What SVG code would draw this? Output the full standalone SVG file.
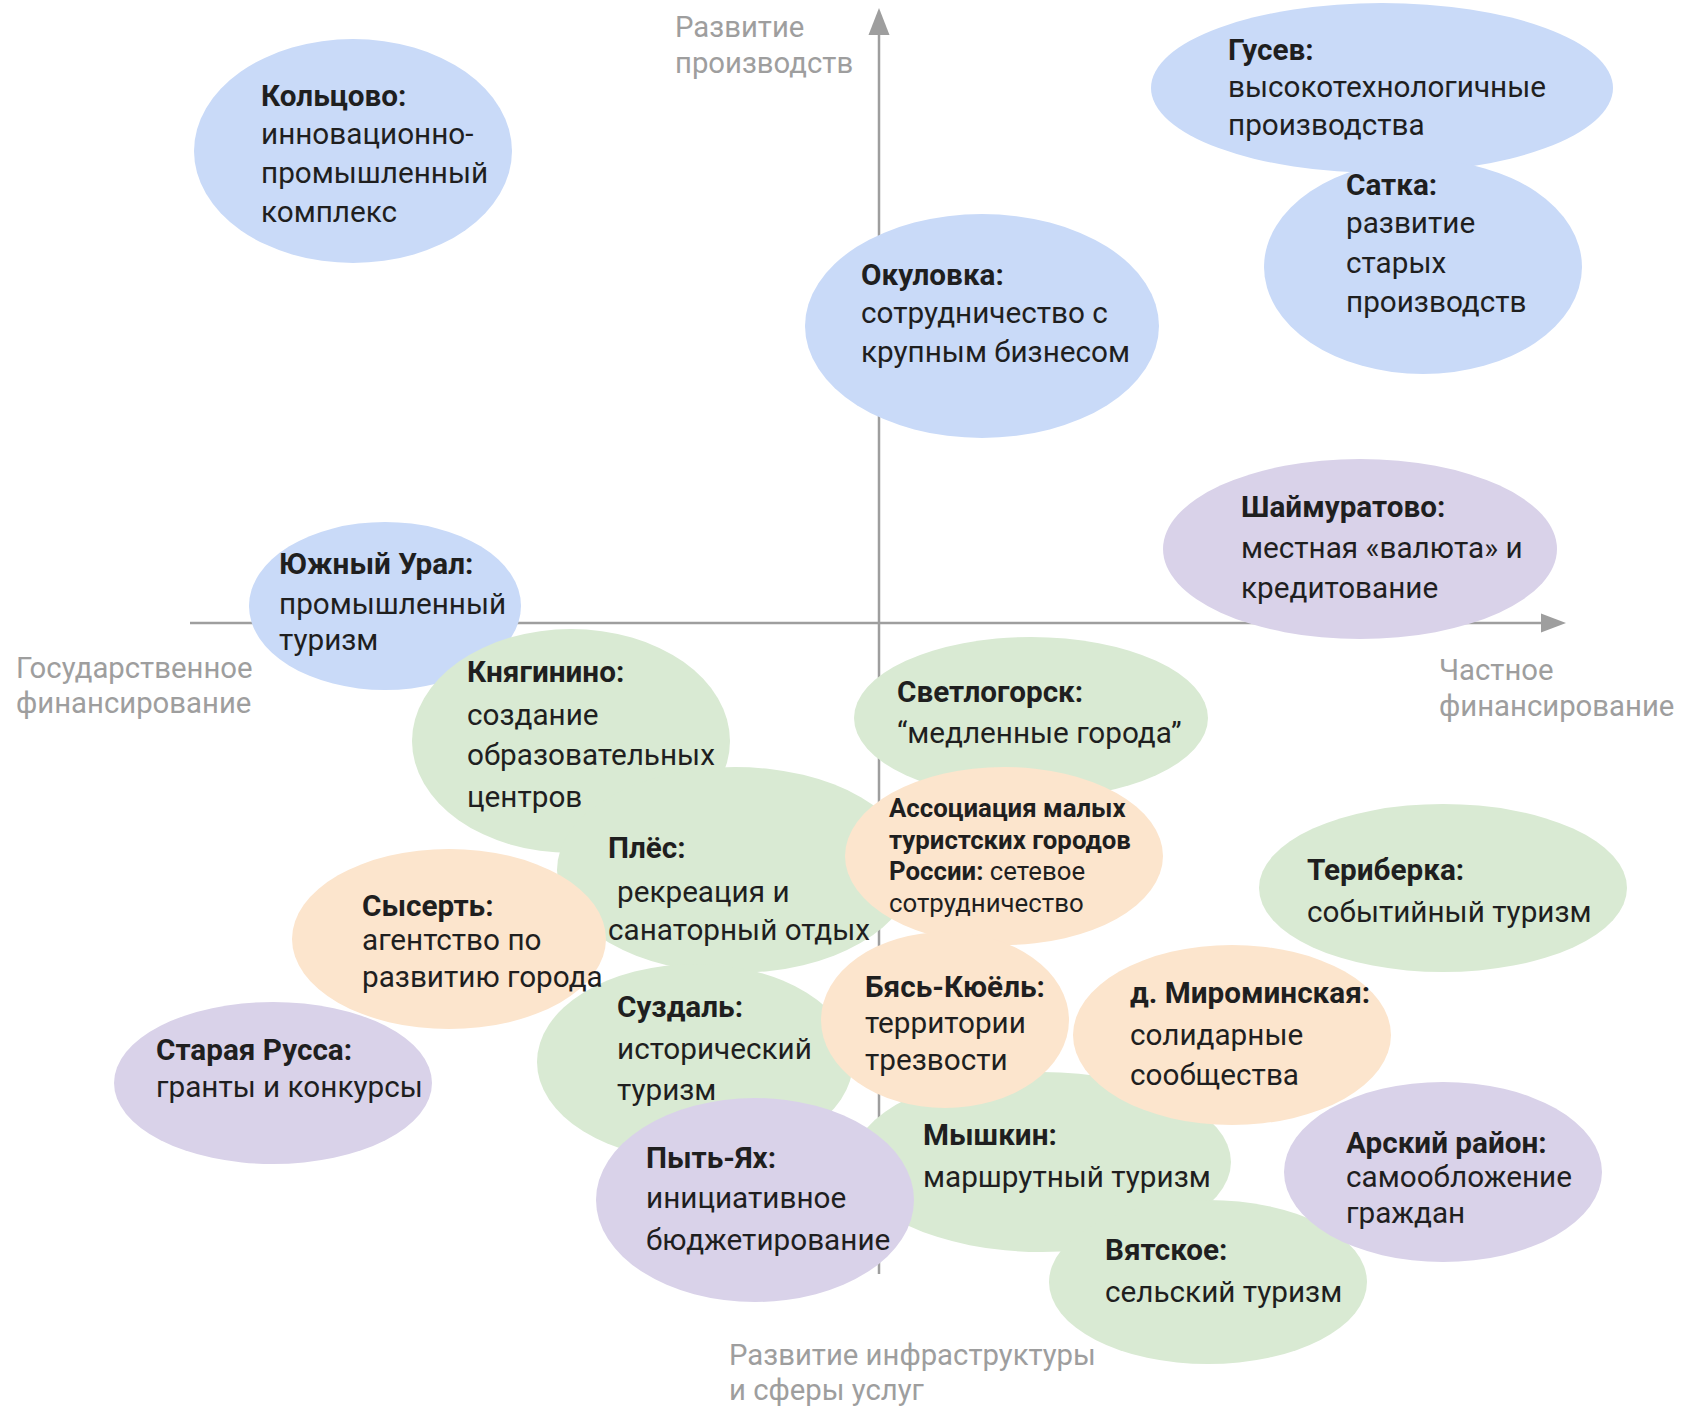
<svg xmlns="http://www.w3.org/2000/svg" width="1693" height="1408" viewBox="0 0 1693 1408">
<defs>
<style>
.blue{fill:#c9daf8}
.green{fill:#d9ead3}
.orange{fill:#fce5cd}
.purple{fill:#d9d2e9}
text{font-family:Roboto,"Liberation Sans",sans-serif;font-size:29.7px;fill:#1f1f1f}
.b{font-weight:bold}
.ax{fill:#9e9e9e;font-size:29.3px}
.sm{font-size:25.8px}
.axis{stroke:#9e9e9e;stroke-width:2.5;fill:none}
.head{fill:#9e9e9e}
</style>
</defs>
<rect width="1693" height="1408" fill="#fff"/>
<g id="connectors">
<line class="axis" x1="879" y1="1274" x2="879" y2="35"/>
<polygon class="head" points="879,8 868.5,35 889.5,35"/>
<line class="axis" x1="190" y1="623" x2="1541" y2="623"/>
<polygon class="head" points="1566,623 1541,613.5 1541,632.5"/>
</g>
<g id="axis-labels">
<text class="ax" x="675" y="37">Развитие<tspan x="675" y="73">производств</tspan></text>
<text class="ax" x="16" y="678">Государственное<tspan x="16" y="713">финансирование</tspan></text>
<text class="ax" x="1439" y="680">Частное<tspan x="1439" y="716">финансирование</tspan></text>
<text class="ax" x="729" y="1365">Развитие инфраструктуры<tspan x="729" y="1400">и сферы услуг</tspan></text>
</g>
<g id="koltsovo">
<ellipse class="blue" cx="353" cy="151" rx="159" ry="112"/>
<text x="261" y="106"><tspan class="b">Кольцово:</tspan><tspan x="261" y="144">инновационно-</tspan><tspan x="261" y="183">промышленный</tspan><tspan x="261" y="222">комплекс</tspan></text>
</g>
<g id="gusev">
<ellipse class="blue" cx="1382" cy="88" rx="231" ry="85"/>
<text x="1228" y="60"><tspan class="b">Гусев:</tspan><tspan x="1228" y="97">высокотехнологичные</tspan><tspan x="1228" y="135">производства</tspan></text>
</g>
<g id="satka">
<ellipse class="blue" cx="1423" cy="267" rx="159" ry="107"/>
<text x="1346" y="195"><tspan class="b">Сатка:</tspan><tspan x="1346" y="233">развитие</tspan><tspan x="1346" y="273">старых</tspan><tspan x="1346" y="312">производств</tspan></text>
</g>
<g id="okulovka">
<ellipse class="blue" cx="982" cy="326" rx="177" ry="112"/>
<text x="861" y="285"><tspan class="b">Окуловка:</tspan><tspan x="861" y="323">сотрудничество с</tspan><tspan x="861" y="362">крупным бизнесом</tspan></text>
</g>
<g id="shaimuratovo">
<ellipse class="purple" cx="1360" cy="549" rx="197" ry="90"/>
<text x="1241" y="517"><tspan class="b">Шаймуратово:</tspan><tspan x="1241" y="558">местная «валюта» и</tspan><tspan x="1241" y="598">кредитование</tspan></text>
</g>
<g id="yuzhny-ural">
<ellipse class="blue" cx="385" cy="606" rx="136" ry="84"/>
<text x="279" y="574"><tspan class="b">Южный Урал:</tspan><tspan x="279" y="614">промышленный</tspan><tspan x="279" y="650">туризм</tspan></text>
</g>
<g id="knyaginino">
<ellipse class="green" cx="571" cy="741" rx="159" ry="112"/>
<text x="467" y="682"><tspan class="b">Княгинино:</tspan><tspan x="467" y="725">создание</tspan><tspan x="467" y="765">образовательных</tspan><tspan x="467" y="807">центров</tspan></text>
</g>
<g id="plyos">
<ellipse class="green" cx="735" cy="870" rx="178" ry="103"/>
<text x="608" y="858"><tspan class="b">Плёс:</tspan><tspan x="617" y="902">рекреация и</tspan><tspan x="608" y="940">санаторный отдых</tspan></text>
</g>
<g id="suzdal">
<ellipse class="green" cx="695" cy="1062" rx="158" ry="98"/>
<text x="617" y="1017"><tspan class="b">Суздаль:</tspan><tspan x="617" y="1059">исторический</tspan><tspan x="617" y="1100">туризм</tspan></text>
</g>
<g id="sysert">
<ellipse class="orange" cx="449" cy="939" rx="157" ry="90"/>
<text x="362" y="916"><tspan class="b">Сысерть:</tspan><tspan x="362" y="950">агентство по</tspan><tspan x="362" y="987">развитию города</tspan></text>
</g>
<g id="staraya-russa">
<ellipse class="purple" cx="273" cy="1083" rx="159" ry="81"/>
<text x="156" y="1060"><tspan class="b">Старая Русса:</tspan><tspan x="156" y="1097">гранты и конкурсы</tspan></text>
</g>
<g id="svetlogorsk">
<ellipse class="green" cx="1031" cy="718" rx="177" ry="81"/>
<text x="897" y="702"><tspan class="b">Светлогорск:</tspan><tspan x="897" y="743">“медленные города”</tspan></text>
</g>
<g id="association">
<ellipse class="orange" cx="1004" cy="856" rx="159" ry="89"/>
<text class="sm" x="889" y="817"><tspan class="b">Ассоциация малых</tspan><tspan class="b" x="889" y="849">туристских городов</tspan><tspan class="b" x="889" y="880">России:</tspan><tspan> сетевое</tspan><tspan x="889" y="912">сотрудничество</tspan></text>
</g>
<g id="myshkin">
<ellipse class="green" cx="1042" cy="1162" rx="189" ry="90"/>
<text x="923" y="1145"><tspan class="b">Мышкин:</tspan><tspan x="923" y="1187">маршрутный туризм</tspan></text>
</g>
<g id="vyatskoye">
<ellipse class="green" cx="1208" cy="1282" rx="159" ry="82"/>
<text x="1105" y="1260"><tspan class="b">Вятское:</tspan><tspan x="1105" y="1302">сельский туризм</tspan></text>
</g>
<g id="pyt-yakh">
<ellipse class="purple" cx="755" cy="1200" rx="159" ry="102"/>
<text x="646" y="1168"><tspan class="b">Пыть-Ях:</tspan><tspan x="646" y="1208">инициативное</tspan><tspan x="646" y="1250">бюджетирование</tspan></text>
</g>
<g id="byas-kyuel">
<ellipse class="orange" cx="945" cy="1020" rx="124" ry="88"/>
<text x="865" y="997"><tspan class="b">Бясь-Кюёль:</tspan><tspan x="865" y="1033">территории</tspan><tspan x="865" y="1070">трезвости</tspan></text>
</g>
<g id="mirominskaya">
<ellipse class="orange" cx="1232" cy="1035" rx="159" ry="90"/>
<text x="1130" y="1003"><tspan class="b">д. Мироминская:</tspan><tspan x="1130" y="1045">солидарные</tspan><tspan x="1130" y="1085">сообщества</tspan></text>
</g>
<g id="arsky">
<ellipse class="purple" cx="1443" cy="1172" rx="159" ry="90"/>
<text x="1346" y="1153"><tspan class="b">Арский район:</tspan><tspan x="1346" y="1187">самообложение</tspan><tspan x="1346" y="1223">граждан</tspan></text>
</g>
<g id="teriberka">
<ellipse class="green" cx="1443" cy="888" rx="184" ry="84"/>
<text x="1307" y="880"><tspan class="b">Териберка:</tspan><tspan x="1307" y="922">событийный туризм</tspan></text>
</g>
</svg>
